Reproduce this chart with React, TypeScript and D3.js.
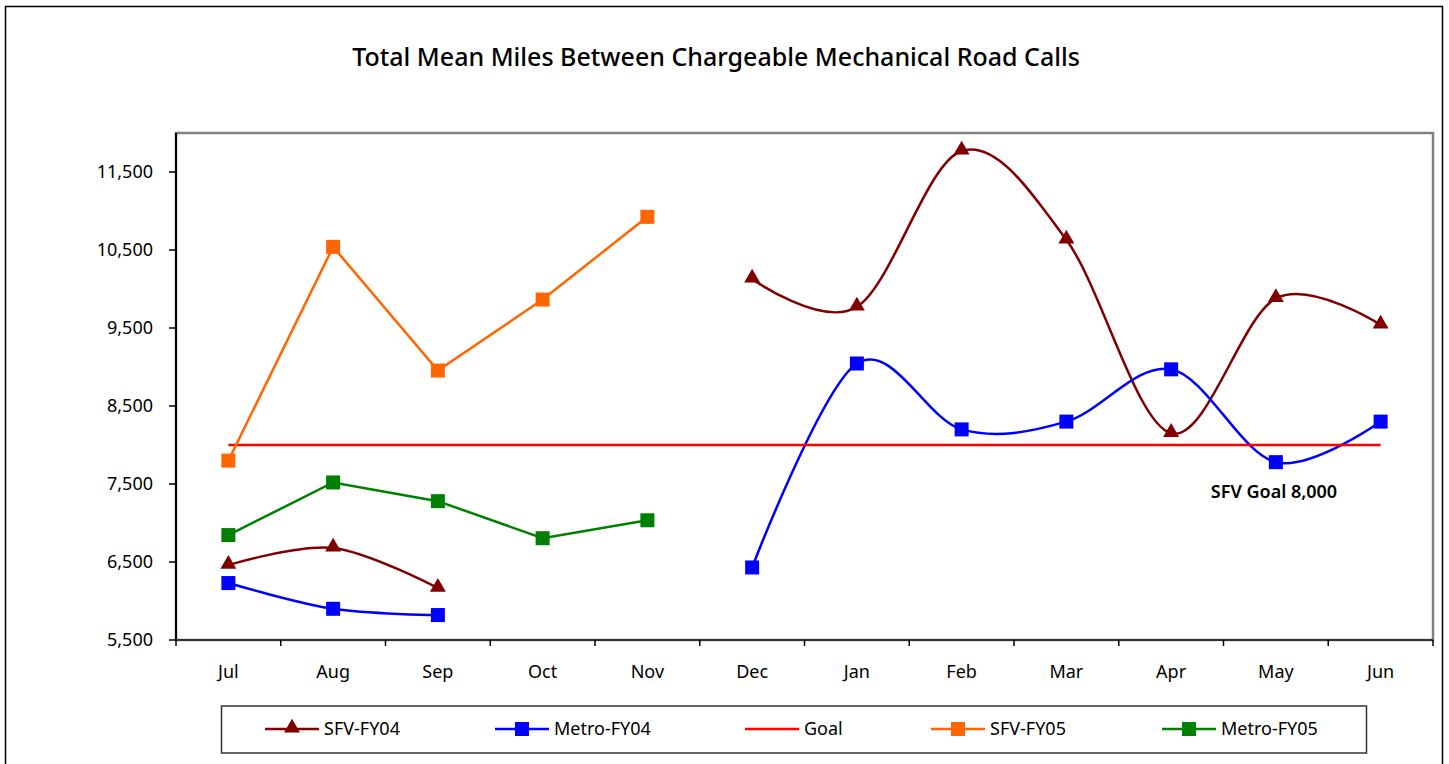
import React, { useEffect, useRef } from 'react';
import * as d3 from 'd3';

const months = ['Jul', 'Aug', 'Sep', 'Oct', 'Nov', 'Dec', 'Jan', 'Feb', 'Mar', 'Apr', 'May', 'Jun'];
const yTicks = [5500, 6500, 7500, 8500, 9500, 10500, 11500];

const sfvFY04 = [6460, 6680, 6165, null, null, 10130, 9770, 11770, 10630, 8150, 9880, 9540];
const metroFY04 = [6230, 5900, 5820, null, null, 6430, 9045, 8200, 8300, 8970, 7780, 8300];
const goal = [8000, 8000, 8000, 8000, 8000, 8000, 8000, 8000, 8000, 8000, 8000, 8000];
const sfvFY05 = [7800, 10540, 8955, 9865, 10925, null, null, null, null, null, null, null];
const metroFY05 = [6845, 7520, 7280, 6805, 7035, null, null, null, null, null, null, null];

const series = [
  { name: 'SFV-FY04', values: sfvFY04, color: '#800000', marker: 'triangle', smooth: true },
  { name: 'Metro-FY04', values: metroFY04, color: '#0000FF', marker: 'square', smooth: true },
  { name: 'Goal', values: goal, color: '#FF0000', marker: 'none', smooth: false },
  { name: 'SFV-FY05', values: sfvFY05, color: '#FF6600', marker: 'square', smooth: false },
  { name: 'Metro-FY05', values: metroFY05, color: '#008000', marker: 'square', smooth: false },
];

const FONT = '"Noto Sans", "Open Sans", sans-serif';

const App = () => {
  const svgRef = useRef<SVGSVGElement>(null);

  useEffect(() => {
    document.body.style.margin = '0';
    const svg = d3.select(svgRef.current);
    svg.selectAll('*').remove();

    const left = 176, right = 1433, top = 133, bottom = 640;

    const x = d3.scaleBand().domain(months).range([left, right]);
    const bw = x.bandwidth();
    const cx = (m: string) => (x(m) as number) + bw / 2;
    const y = d3.scaleLinear().domain([5500, 12000]).range([bottom, top]);

    // outer frame
    svg.append('rect')
      .attr('x', 5.5).attr('y', 6.5).attr('width', 1437).attr('height', 770)
      .attr('fill', 'white').attr('stroke', '#000').attr('stroke-width', 1.5);

    svg.append('text')
      .attr('x', 716).attr('y', 66)
      .attr('text-anchor', 'middle')
      .style('font-family', FONT).style('font-size', '25px').style('font-weight', 500)
      .text('Total Mean Miles Between Chargeable Mechanical Road Calls');

    // plot area
    svg.append('rect')
      .attr('x', left).attr('y', top).attr('width', right - left).attr('height', bottom - top)
      .attr('fill', 'white').attr('stroke', '#808080').attr('stroke-width', 2.5);

    // y axis
    const yAxis = svg.append('g');
    yAxis.append('line')
      .attr('x1', left).attr('x2', left).attr('y1', top).attr('y2', bottom)
      .attr('stroke', '#000').attr('stroke-width', 2);
    yAxis.selectAll('g.tick').data(yTicks).enter().append('g').each(function (d) {
      const g = d3.select(this);
      g.append('line')
        .attr('x1', left - 7).attr('x2', left).attr('y1', y(d)).attr('y2', y(d))
        .attr('stroke', '#000').attr('stroke-width', 1.5);
      g.append('text')
        .attr('x', left - 23).attr('y', y(d)).attr('dy', '0.35em')
        .attr('text-anchor', 'end')
        .style('font-family', FONT).style('font-size', '18px')
        .text(d3.format(',')(d));
    });

    // x axis
    const xAxis = svg.append('g');
    xAxis.append('line')
      .attr('x1', left).attr('x2', right).attr('y1', bottom).attr('y2', bottom)
      .attr('stroke', '#333').attr('stroke-width', 2);
    const bounds = months.map((m) => x(m) as number).concat([right]);
    xAxis.selectAll('line.tick').data(bounds).enter().append('line')
      .attr('x1', (d) => d).attr('x2', (d) => d).attr('y1', bottom).attr('y2', bottom + 6)
      .attr('stroke', '#000').attr('stroke-width', 1.5);
    xAxis.selectAll('text').data(months).enter().append('text')
      .attr('x', (d) => cx(d)).attr('y', 672).attr('dy', '0.35em')
      .attr('text-anchor', 'middle')
      .style('font-family', FONT).style('font-size', '18px')
      .text((d) => d);

    const triangle = d3.symbol().type(d3.symbolTriangle).size(110);

    const drawMarker = (g: any, kind: string, px: number, py: number, color: string) => {
      if (kind === 'square') {
        g.append('rect')
          .attr('x', px - 7).attr('y', py - 7).attr('width', 14).attr('height', 14)
          .attr('fill', color);
      } else if (kind === 'triangle') {
        g.append('path')
          .attr('d', triangle())
          .attr('transform', `translate(${px},${py - 1})`)
          .attr('fill', color);
      }
    };

    series.forEach((s) => {
      const pts = months.map((m, i) => ({ m, v: s.values[i] }));
      const line = d3.line<{ m: string; v: number | null }>()
        .defined((d) => d.v != null)
        .x((d) => cx(d.m))
        .y((d) => y(d.v as number))
        .curve(s.smooth ? d3.curveCatmullRom.alpha(0) : d3.curveLinear);
      svg.append('path')
        .attr('d', line(pts))
        .attr('fill', 'none')
        .attr('stroke', s.color)
        .attr('stroke-width', 2.5);
    });

    series.forEach((s) => {
      const g = svg.append('g');
      months.forEach((m, i) => {
        const v = s.values[i];
        if (v == null) return;
        drawMarker(g, s.marker, cx(m), y(v), s.color);
      });
    });

    svg.append('text')
      .attr('x', 1274).attr('y', 492).attr('dy', '0.35em')
      .attr('text-anchor', 'middle')
      .style('font-family', FONT).style('font-size', '18px').style('font-weight', 600)
      .text('SFV Goal 8,000');

    // legend
    const legend = svg.append('g');
    legend.append('rect')
      .attr('x', 221.5).attr('y', 706).attr('width', 1145).attr('height', 47)
      .attr('fill', 'white').attr('stroke', '#333').attr('stroke-width', 1.5);
    const legendX = [265, 495, 745, 931, 1162];
    series.forEach((s, i) => {
      const lx = legendX[i];
      const ly = 729;
      legend.append('line')
        .attr('x1', lx).attr('x2', lx + 54).attr('y1', ly).attr('y2', ly)
        .attr('stroke', s.color).attr('stroke-width', 2.5);
      drawMarker(legend, s.marker, lx + 27, ly, s.color);
      legend.append('text')
        .attr('x', lx + 59).attr('y', ly).attr('dy', '0.35em')
        .style('font-family', FONT).style('font-size', '18px')
        .text(s.name);
    });
  }, []);

  return (
    <div style={{ width: 1449, height: 764 }}>
      <svg ref={svgRef} width={1449} height={764} style={{ display: 'block' }} />
    </div>
  );
};

export default App;
